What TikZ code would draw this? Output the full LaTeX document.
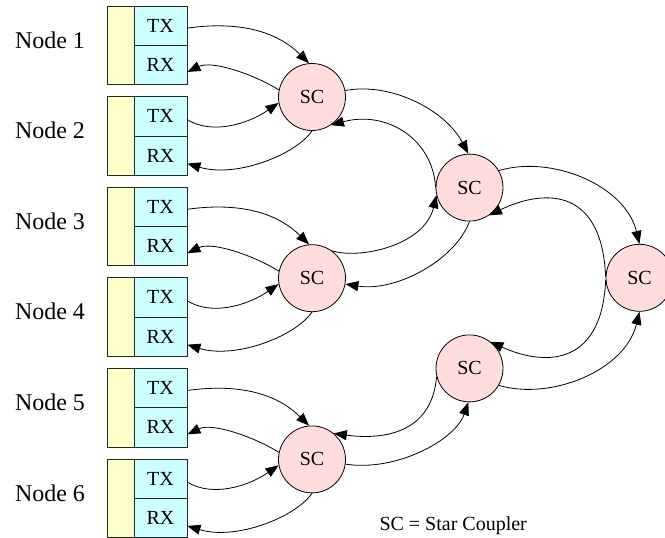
\documentclass[tikz,border=0pt]{standalone}
\usepackage{fontspec}
\setmainfont{Liberation Serif}
\usetikzlibrary{arrows.meta,calc}
\definecolor{portfill}{RGB}{204,255,255}
\definecolor{barfill}{RGB}{255,255,204}
\definecolor{couplerfill}{RGB}{255,221,221}
\begin{document}
\begin{tikzpicture}[x=1pt,y=-1pt,
  bar/.style={draw=black!85, fill=barfill, line width=0.8pt, minimum width=27pt, minimum height=78.6pt, inner sep=0pt},
  port/.style={draw=black!85, fill=portfill, line width=0.8pt, minimum width=53pt, minimum height=39.3pt, inner sep=0pt, font=\fontsize{20}{24}\selectfont},
  coupler/.style={circle, draw=black, fill=couplerfill, line width=0.8pt, minimum size=67pt, inner sep=0pt, font=\fontsize{20}{24}\selectfont},
  nodelabel/.style={anchor=base, inner sep=0pt, font=\fontsize{24}{28}\selectfont},
  legend/.style={anchor=base west, inner sep=0pt, font=\fontsize{20}{24}\selectfont},
  link/.style={draw=black, line width=0.8pt, -{Triangle[length=13pt,width=10pt]}}]
\useasboundingbox (0,0) rectangle (665,538);

% terminals: a yellow bar with TX over RX
\foreach \i in {1,...,6} {
  \pgfmathsetmacro\t{6+90.6*(\i-1)}
  \node[bar]  (bar\i) at (120.5,{\t+39.3}) {};
  \node[port] (tx\i)  at (160.5,{\t+19.65}) {TX};
  \node[port] (rx\i)  at (160.5,{\t+58.95}) {RX};
  \node[nodelabel] (lbl\i) at (50,{\t+42}) {Node \i};
}

% star couplers
\node[coupler] (A) at (312,97) {SC};
\node[coupler] (B) at (312,278.2) {SC};
\node[coupler] (C) at (312,459.4) {SC};
\node[coupler] (D) at (469.5,187.6) {SC};
\node[coupler] (E) at (469.5,368.4) {SC};
\node[coupler] (F) at (639.5,277.8) {SC};

% terminal pairs to their first-level coupler
\foreach \c/\p/\q in {A/1/2,B/3/4,C/5/6} {
  \draw[link] ($(tx\p.east)+(0,2.4)$) .. controls ($(tx\p.east)+(58,-5.6)$) and ($(\c.95)+(-29,-28.6)$) .. (\c.95);
  \draw[link] (\c.168) .. controls ($(\c.168)+(-23.7,-15)$) and ($(rx\p.east)+(25,-5)$) .. ($(rx\p.east)+(0,7)$);
  \draw[link] ($(tx\q.east)+(0,3.5)$) .. controls ($(tx\q.east)+(25,18.75)$) and ($(\c.190)+(-30.5,21)$) .. (\c.190);
  \draw[link] (\c.270) .. controls ($(\c.270)+(-17,24.5)$) and ($(rx\q.east)+(48,22.5)$) .. ($(rx\q.east)+(0,8)$);
}

% second level
\draw[link] (A.11) .. controls ($(A.11)+(45.2,-8.6)$) and ($(D.92)+(-23.3,-44.1)$) .. (D.92);
\draw[link] (D.180) .. controls ($(D.180)+(-3,-50)$) and ($(A.304)+(54.3,-14.8)$) .. (A.304);
\draw[link] (B.54) .. controls ($(B.54)+(28.6,8.9)$) and ($(D.193)+(-11.9,49.9)$) .. (D.193);
\draw[link] (D.270) .. controls ($(D.270)+(-14.5,38.9)$) and ($(B.350)+(50.3,8)$) .. (B.350);

\draw[link] (C.352) .. controls ($(C.352)+(50.1,7.9)$) and ($(E.268)+(-13.3,38.1)$) .. (E.268);
\draw[link] (E.194) .. controls ($(E.194)+(-5,58.5)$) and ($(C.50)+(46.8,6.3)$) .. (C.50);

% top level
\draw[link] (D.30) .. controls ($(D.30)+(51.5,-15.85)$) and ($(F.north)+(-14.5,-59.3)$) .. (F.north);
\draw[link] (F.178) .. controls ($(F.178)+(-4,-92.8)$) and ($(D.305)+(51.3,-25)$) .. (D.305);
\draw[link] (F.184) .. controls ($(F.184)+(-4.1,89.9)$) and ($(E.52)+(49.9,23)$) .. (E.52);
\draw[link] (E.330) .. controls ($(E.330)+(51.5,15.35)$) and ($(F.south)+(-14.5,59.2)$) .. (F.south);

\node[legend] (key) at (379.3,530) {SC = Star Coupler};
\end{tikzpicture}
\end{document}
